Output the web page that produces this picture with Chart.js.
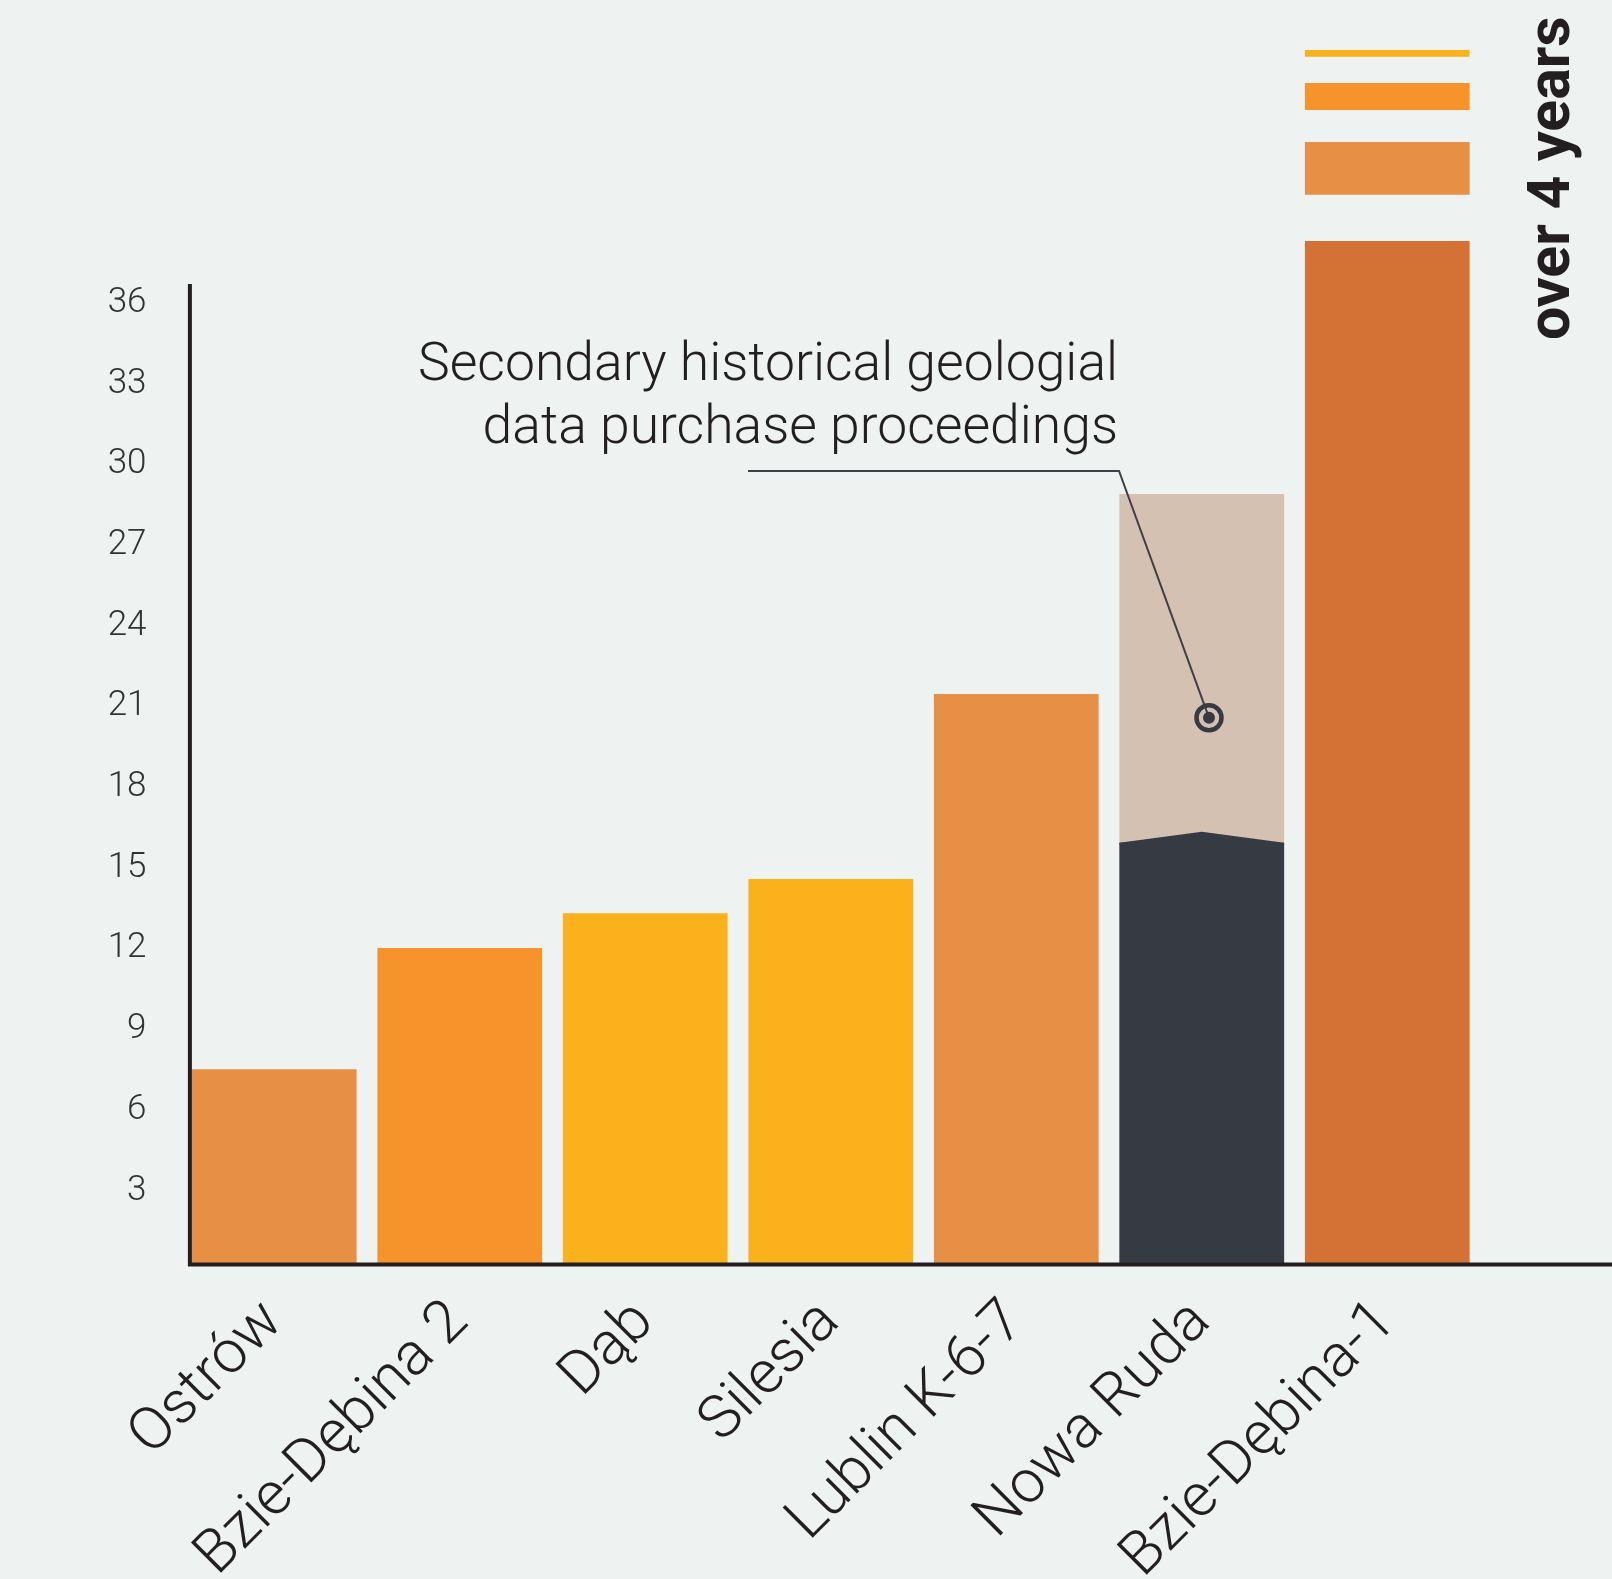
<!DOCTYPE html>
<html>
<head>
<meta charset="utf-8">
<script src="https://cdn.jsdelivr.net/npm/chart.js@4/dist/chart.umd.min.js"></script>
<style>
  html, body { margin: 0; padding: 0; background: #eef2f0; }
  #wrap { width: 1612px; height: 1579px; }
</style>
</head>
<body>
<div id="wrap"><canvas id="chart" width="1612" height="1579"></canvas></div>
<script>
// data
const categories = ['Ostrów', 'Bzie-Dębina 2', 'Dąb', 'Silesia', 'Lublin K-6-7', 'Nowa Ruda', 'Bzie-Dębina-1']
const totals = [7.22, 11.73, 13.02, 14.29, 21.17, 28.61, 38.01]
const novaRudaLower = [null, null, null, null, null, 15.64, null]
const novaRudaPeak = 16.05
// pieces of the broken Bzie-Dębina-1 bar above the axis top
const breakLow = [null, null, null, null, null, null, [39.73, 41.69]]
const breakMid = [null, null, null, null, null, null, [42.88, 43.88]]
const breakTop = [null, null, null, null, null, null, [44.86, 45.11]]
const yTickLabels = [3, 6, 9, 12, 15, 18, 21, 24, 27, 30, 33, 36]
const yAxisTop = 36.41
const yMax = 46.97
const noteLines = ['Secondary historical geologial', 'data purchase proceedings']
const sideNote = 'over 4 years'

const lightOrange = '#e68f45'
const orange = '#f7932b'
const yellow = '#fbb11c'
const beige = '#d5c1b1'
const dark = '#363a42'
const burnt = '#d37234'
const ink = '#231f20'

const totalColors = [lightOrange, orange, yellow, yellow, lightOrange, beige, burnt]

const extras = {
    id: 'extras',
    beforeDraw(chart) {
        const ctx = chart.ctx
        ctx.save()
        ctx.fillStyle = '#eef2f0'
        ctx.fillRect(0, 0, chart.width, chart.height)
        ctx.restore()
    },
    afterDatasetsDraw(chart) {
        const ctx = chart.ctx
        const x = chart.scales.x
        const y = chart.scales.y

        // peaked top of the dark Nowa Ruda part
        const dk = chart.getDatasetMeta(1).data[5]
        const l = dk.x - dk.width / 2, r = dk.x + dk.width / 2
        ctx.save()
        ctx.fillStyle = dark
        ctx.beginPath()
        ctx.moveTo(l, dk.y + 2)
        ctx.lineTo(l, dk.y)
        ctx.lineTo(dk.x, y.getPixelForValue(novaRudaPeak))
        ctx.lineTo(r, dk.y)
        ctx.lineTo(r, dk.y + 2)
        ctx.closePath()
        ctx.fill()
        ctx.restore()

        // axes
        const first = chart.getDatasetMeta(0).data[0]
        const ax = first.x - first.width / 2 - 2
        const y0 = y.getPixelForValue(0)
        ctx.save()
        ctx.strokeStyle = ink
        ctx.lineWidth = 4
        ctx.beginPath()
        ctx.moveTo(ax, y.getPixelForValue(yAxisTop))
        ctx.lineTo(ax, y0 + 3)
        ctx.moveTo(ax - 2, y0 + 1)
        ctx.lineTo(chart.width, y0 + 1)
        ctx.stroke()
        ctx.restore()

        // annotation
        const tx = x.getPixelForValue(5 - 0.451)
        ctx.save()
        ctx.fillStyle = ink
        ctx.font = '300 53.5px Roboto'
        ctx.textAlign = 'right'
        ctx.textBaseline = 'alphabetic'
        ctx.fillText(noteLines[0], tx, y.getPixelForValue(32.84))
        ctx.fillText(noteLines[1], tx, y.getPixelForValue(30.50))

        const ex = x.getPixelForValue(5 - 0.446), ey = y.getPixelForValue(29.46)
        const cx = x.getPixelForValue(5 + 0.039), cy = y.getPixelForValue(20.29)
        ctx.strokeStyle = '#3c4047'
        ctx.lineWidth = 2
        ctx.beginPath()
        ctx.moveTo(x.getPixelForValue(5 - 2.446), ey)
        ctx.lineTo(ex, ey)
        ctx.lineTo(cx, cy)
        ctx.stroke()
        ctx.strokeStyle = dark
        ctx.lineWidth = 4.5
        ctx.beginPath()
        ctx.arc(cx, cy, 12.5, 0, Math.PI * 2)
        ctx.stroke()
        ctx.fillStyle = dark
        ctx.beginPath()
        ctx.arc(cx, cy, 6, 0, Math.PI * 2)
        ctx.fill()

        // vertical side note
        ctx.translate(x.getPixelForValue(6.98), y.getPixelForValue(34.33))
        ctx.rotate(-Math.PI / 2)
        ctx.font = 'bold 59px Roboto'
        ctx.textAlign = 'left'
        ctx.fillStyle = ink
        ctx.fillText(sideNote, 0, 0)
        ctx.restore()
    }
}

Chart.defaults.font.family = 'Roboto'

const chart_ctx = document.getElementById('chart').getContext('2d')
const chart = new Chart(chart_ctx, {
    type: 'bar',
    data: {
        labels: categories,
        datasets: [{
            data: totals,
            backgroundColor: totalColors,
            order: 2
        }, {
            data: novaRudaLower,
            backgroundColor: dark,
            order: 1
        }, {
            data: breakLow,
            backgroundColor: lightOrange,
            order: 2
        }, {
            data: breakMid,
            backgroundColor: orange,
            order: 2
        }, {
            data: breakTop,
            backgroundColor: yellow,
            order: 2
        }]
    },
    options: {
        responsive: false,
        devicePixelRatio: 1,
        animation: false,
        grouped: false,
        barPercentage: 0.888,
        categoryPercentage: 1,
        layout: { padding: { top: 0, right: 132, left: 0, bottom: 0 } },
        plugins: { legend: { display: false }, tooltip: { enabled: false } },
        scales: {
            x: {
                grid: { display: false, drawTicks: false },
                border: { display: false },
                ticks: {
                    autoSkip: false,
                    minRotation: 45,
                    maxRotation: 45,
                    padding: 24,
                    color: ink,
                    font: { size: 60, weight: 300 }
                },
                afterFit: (s) => { s.height = 315.5 }
            },
            y: {
                min: 0,
                max: yMax,
                grid: { display: false, drawTicks: false },
                border: { display: false },
                ticks: {
                    padding: 35,
                    labelOffset: 8,
                    color: '#333333',
                    font: { size: 35, weight: 300 },
                    callback: (v) => String(v)
                },
                afterBuildTicks: (s) => { s.ticks = yTickLabels.map(v => ({ value: v })) },
                afterFit: (s) => {
                    s.width = 181.5
                    s.paddingTop = 0
                    s.paddingBottom = 0
                }
            }
        }
    },
    plugins: [extras]
})
</script>
</body>
</html>
